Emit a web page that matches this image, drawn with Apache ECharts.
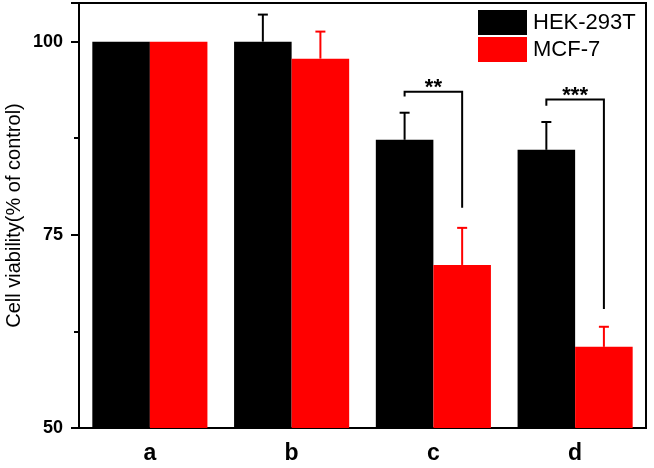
<!DOCTYPE html>
<html>
<head>
<meta charset="utf-8">
<script src="https://cdn.jsdelivr.net/npm/echarts@6/dist/echarts.min.js"></script>
<style>html,body{margin:0;padding:0;background:#fff}#c{width:654px;height:468px}</style>
</head>
<body>
<div id="c"></div>
<script>
const categories = ['a', 'b', 'c', 'd'];
const seriesNames = ['HEK-293T', 'MCF-7'];
const hekValues = [100, 100, 87.3, 86.0];
const mcfValues = [100, 97.8, 71.1, 60.5];
const hekUpper = [null, 103.5, 90.8, 89.6];
const mcfUpper = [null, 101.3, 75.9, 63.1];
const bracketCats = [2, 3];
const bracketTop = [93.5, 92.5];
const bracketLeftEnd = [92.9, 91.7];
const bracketRightEnd = [78.5, 65.4];
const bracketLabels = ['**', '***'];
const yTicks = [50, 75, 100];

const FONT = 'Arial, "Liberation Sans", sans-serif';
const BAR_FRAC = 0.406;

function errorData(vals, ups) {
  const out = [];
  vals.forEach((v, i) => { if (ups[i] != null) out.push([i, v, ups[i]]); });
  return out;
}

function errorSeries(name, vals, ups, color, side) {
  return {
    type: 'custom',
    name: name + '_err',
    silent: true,
    z: 5,
    data: errorData(vals, ups),
    renderItem: function (params, api) {
      const cat = api.value(0);
      const band = api.size([1, 0])[0];
      const off = side * band * BAR_FRAC / 2;
      const p0 = api.coord([cat, api.value(1)]);
      const p1 = api.coord([cat, api.value(2)]);
      const x = p0[0] + off;
      const cap = 5;
      return {
        type: 'group',
        children: [
          { type: 'line', shape: { x1: x, y1: p0[1], x2: x, y2: p1[1] }, style: { stroke: color, lineWidth: 2 } },
          { type: 'line', shape: { x1: x - cap, y1: p1[1], x2: x + cap, y2: p1[1] }, style: { stroke: color, lineWidth: 2 } }
        ]
      };
    }
  };
}

const bracketData = bracketCats.map((c, i) => [c, bracketTop[i], bracketLeftEnd[i], bracketRightEnd[i], i]);

const chart = echarts.init(document.getElementById('c'), null, { renderer: 'canvas' });
chart.setOption({
  animation: false,
  backgroundColor: '#fff',
  grid: { left: 79, right: 8, top: 3, bottom: 40, containLabel: false, outerBoundsMode: 'none', show: true, borderColor: '#000', borderWidth: 2, backgroundColor: 'transparent' },
  legend: {
    data: seriesNames,
    orient: 'vertical',
    left: 473,
    top: 5,
    itemWidth: 49,
    itemHeight: 25,
    itemGap: 2,
    icon: 'rect',
    textStyle: { fontFamily: FONT, fontSize: 22, color: '#000', padding: [0, 0, 0, 1] }
  },
  xAxis: {
    type: 'category',
    data: categories,
    boundaryGap: true,
    axisLine: { lineStyle: { color: '#000', width: 2 } },
    axisTick: { alignWithLabel: true, length: 8, lineStyle: { color: '#000', width: 2 } },
    axisLabel: { fontFamily: FONT, fontSize: 23, fontWeight: 'bold', color: '#000', margin: 14 },
    splitLine: { show: false }
  },
  yAxis: {
    type: 'value',
    min: 50,
    max: 105,
    interval: 25,
    name: 'Cell viability(% of control)',
    nameLocation: 'middle',
    nameGap: 55,
    nameMoveOverlap: false,
    nameTextStyle: { fontFamily: FONT, fontSize: 20, color: '#000' },
    axisLine: { show: true, lineStyle: { color: '#000', width: 2 } },
    axisTick: { show: true, length: 8, lineStyle: { color: '#000', width: 2 } },
    minorTick: { show: true, splitNumber: 2, length: 5, lineStyle: { color: '#000', width: 2 } },
    axisLabel: {
      fontFamily: FONT, fontSize: 18, fontWeight: 'bold', color: '#000', margin: 16,
      formatter: function (v) { return yTicks.indexOf(v) >= 0 ? String(v) : ''; }
    },
    splitLine: { show: false }
  },
  series: [
    { type: 'bar', name: seriesNames[0], data: hekValues, barWidth: (BAR_FRAC * 100) + '%', barGap: '0%', itemStyle: { color: '#000000' }, z: 2 },
    { type: 'bar', name: seriesNames[1], data: mcfValues, barWidth: (BAR_FRAC * 100) + '%', barGap: '0%', itemStyle: { color: '#ff0000' }, z: 2 },
    errorSeries(seriesNames[0], hekValues, hekUpper, '#000000', -1),
    errorSeries(seriesNames[1], mcfValues, mcfUpper, '#ff0000', 1),
    {
      type: 'custom',
      name: 'brackets',
      silent: true,
      z: 6,
      data: bracketData,
      renderItem: function (params, api) {
        const cat = api.value(0);
        const band = api.size([1, 0])[0];
        const off = band * BAR_FRAC / 2;
        const pt = api.coord([cat, api.value(1)]);
        const pl = api.coord([cat, api.value(2)]);
        const pr = api.coord([cat, api.value(3)]);
        const xl = pt[0] - off, xr = pt[0] + off;
        const idx = api.value(4);
        return {
          type: 'group',
          children: [
            { type: 'polyline', shape: { points: [[xl, pl[1]], [xl, pt[1]], [xr, pt[1]], [xr, pr[1]]] }, style: { stroke: '#000', lineWidth: 2, fill: null } },
            { type: 'text', style: { text: bracketLabels[idx], x: pt[0], y: pt[1] - 4, align: 'center', verticalAlign: 'middle', fontFamily: FONT, fontSize: 22, fontWeight: 'bold', fill: '#000' } }
          ]
        };
      }
    }
  ]
});
</script>
</body>
</html>
